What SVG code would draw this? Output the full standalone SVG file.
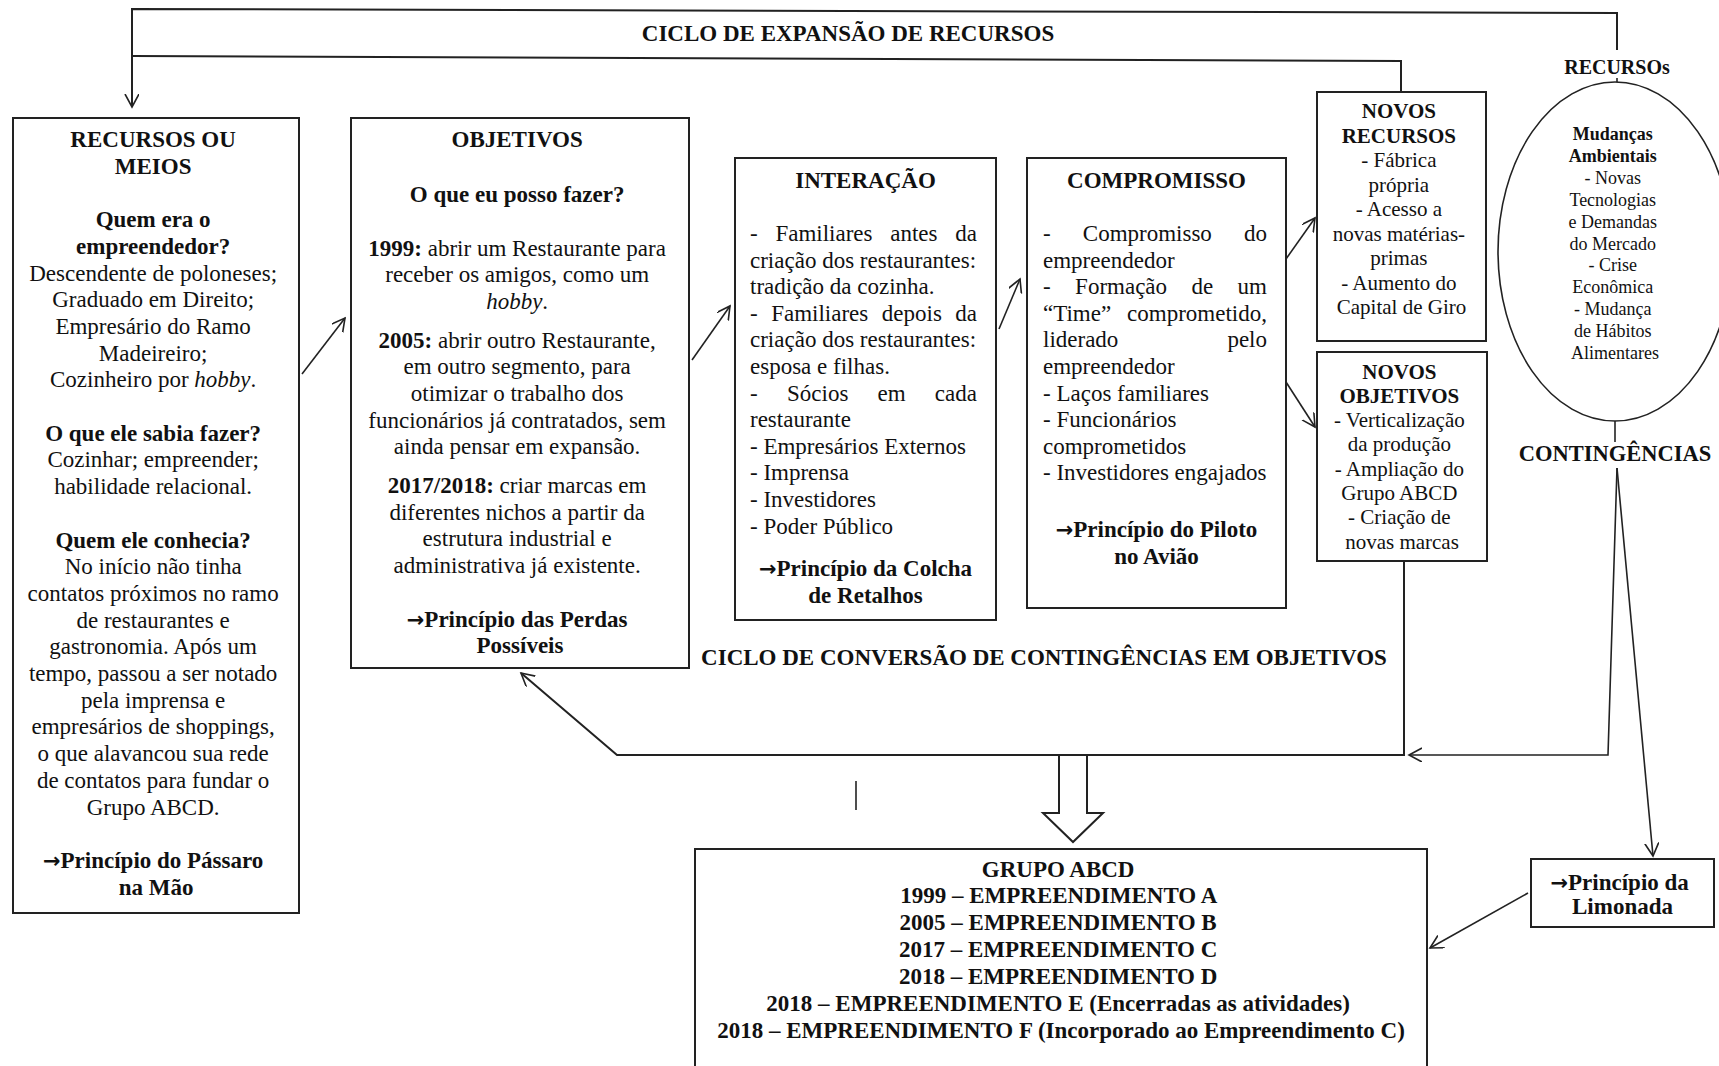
<svg xmlns="http://www.w3.org/2000/svg" width="1719" height="1066" viewBox="0 0 1719 1066">
<style>
.t{font-family:"Liberation Serif","Times New Roman",serif;font-size:23px;fill:#111}
.b{font-weight:bold}
.c{text-anchor:middle}
.e{text-anchor:end}
.i{font-style:italic}
.ar{font-family:"DejaVu Sans",sans-serif;font-weight:bold;font-size:21px}
.s21{font-size:21px}
.s18{font-size:18px}
.s20{font-size:20px}
.box{fill:#fff;stroke:#222;stroke-width:2}
.ln{fill:none;stroke:#222;stroke-width:1.6}
.lt{fill:none;stroke:#222;stroke-width:2}
</style>
<defs>
<marker id="ah" markerUnits="userSpaceOnUse" markerWidth="16" markerHeight="16" refX="13" refY="7" orient="auto">
<path d="M0,0 L13,7 L0,14" fill="none" stroke="#222" stroke-width="1.6"/>
</marker>
</defs>

<g id="connectors">
<polyline class="lt" points="1617,50 1617,13 132,9 132,107" marker-end="url(#ah)"/>
<polyline class="lt" points="132,56 1401,61 1401,91"/>
<line class="ln" x1="1617" y1="78" x2="1617" y2="83"/>
<line class="ln" x1="1615" y1="421" x2="1615" y2="442"/>
<line class="ln" x1="302" y1="374" x2="345" y2="318" marker-end="url(#ah)"/>
<line class="ln" x1="692" y1="360" x2="730" y2="306" marker-end="url(#ah)"/>
<line class="ln" x1="999" y1="329" x2="1020" y2="279" marker-end="url(#ah)"/>
<line class="ln" x1="1286" y1="259" x2="1315" y2="218" marker-end="url(#ah)"/>
<line class="ln" x1="1286" y1="382" x2="1315" y2="427" marker-end="url(#ah)"/>
<polyline class="lt" points="1404,561 1404,755 617,755 521,673" marker-end="url(#ah)"/>
<polyline class="ln" points="1617,468 1608,755 1409,755" marker-end="url(#ah)"/>
<line class="ln" x1="1617" y1="468" x2="1653" y2="856" marker-end="url(#ah)"/>
<line class="ln" x1="1528" y1="893" x2="1430" y2="948" marker-end="url(#ah)"/>
<path d="M1059,755 L1087,755 L1087,813 L1103,813 L1073,842 L1043,813 L1059,813 Z" fill="#fff" stroke="#222" stroke-width="2"/>
<line class="ln" x1="856" y1="781" x2="856" y2="810"/>
</g>

<g id="labels">
<text class="t b c" x="848" y="41">CICLO DE EXPANSÃO DE RECURSOS</text>
<text class="t b c s20" x="1617" y="74">RECURSOs</text>
<text class="t b c" x="1615" y="461" style="font-size:22.5px">CONTINGÊNCIAS</text>
<text class="t b c" x="1044" y="665">CICLO DE CONVERSÃO DE CONTINGÊNCIAS EM OBJETIVOS</text>
</g>

<g id="node-recursos">
<rect class="box" x="13" y="118" width="286" height="795"/>
<text class="t c" x="156">
<tspan class="b" x="156" y="147">RECURSOS OU</tspan>
<tspan class="b" x="156" y="173.7">MEIOS</tspan>
<tspan class="b" x="156" y="227.1">Quem era o</tspan>
<tspan class="b" x="156" y="253.8">empreendedor?</tspan>
<tspan x="156" y="280.5">Descendente de poloneses;</tspan>
<tspan x="156" y="307.2">Graduado em Direito;</tspan>
<tspan x="156" y="333.9">Empresário do Ramo</tspan>
<tspan x="156" y="360.6">Madeireiro;</tspan>
<tspan x="156" y="387.3">Cozinheiro por <tspan class="i">hobby</tspan>.</tspan>
<tspan class="b" x="156" y="440.7">O que ele sabia fazer?</tspan>
<tspan x="156" y="467.4">Cozinhar; empreender;</tspan>
<tspan x="156" y="494.1">habilidade relacional.</tspan>
<tspan class="b" x="156" y="547.5">Quem ele conhecia?</tspan>
<tspan x="156" y="574.2">No início não tinha</tspan>
<tspan x="156" y="600.9">contatos próximos no ramo</tspan>
<tspan x="156" y="627.6">de restaurantes e</tspan>
<tspan x="156" y="654.3">gastronomia. Após um</tspan>
<tspan x="156" y="681">tempo, passou a ser notado</tspan>
<tspan x="156" y="707.7">pela imprensa e</tspan>
<tspan x="156" y="734.4">empresários de shoppings,</tspan>
<tspan x="156" y="761.1">o que alavancou sua rede</tspan>
<tspan x="156" y="787.8">de contatos para fundar o</tspan>
<tspan x="156" y="814.5">Grupo ABCD.</tspan>
<tspan class="b" x="156" y="867.9"><tspan class="ar">→</tspan>Princípio do Pássaro</tspan>
<tspan class="b" x="156" y="894.6">na Mão</tspan>
</text>
</g>

<g id="node-objetivos">
<rect class="box" x="351" y="118" width="338" height="550"/>
<text class="t c">
<tspan class="b" x="520" y="147">OBJETIVOS</tspan>
<tspan class="b" x="520" y="202">O que eu posso fazer?</tspan>
<tspan x="520" y="255.5"><tspan class="b">1999:</tspan> abrir um Restaurante para</tspan>
<tspan x="520" y="282.2">receber os amigos, como um</tspan>
<tspan x="520" y="308.9"><tspan class="i">hobby</tspan>.</tspan>
<tspan x="520" y="347.5"><tspan class="b">2005:</tspan> abrir outro Restaurante,</tspan>
<tspan x="520" y="374.2">em outro segmento, para</tspan>
<tspan x="520" y="400.9">otimizar o trabalho dos</tspan>
<tspan x="520" y="427.6">funcionários já contratados, sem</tspan>
<tspan x="520" y="454.3">ainda pensar em expansão.</tspan>
<tspan x="520" y="493"><tspan class="b">2017/2018:</tspan> criar marcas em</tspan>
<tspan x="520" y="519.7">diferentes nichos a partir da</tspan>
<tspan x="520" y="546.4">estrutura industrial e</tspan>
<tspan x="520" y="573.1">administrativa já existente.</tspan>
<tspan class="b" x="520" y="626.5"><tspan class="ar">→</tspan>Princípio das Perdas</tspan>
<tspan class="b" x="520" y="653.2">Possíveis</tspan>
</text>
</g>

<g id="node-interacao">
<rect class="box" x="735" y="158" width="261" height="462"/>
<text class="t b c" x="865.5" y="187.5">INTERAÇÃO</text>
<text class="t" x="750" y="241">-</text>
<text class="t" x="775.4" y="241">Familiares</text>
<text class="t" x="890.2" y="241">antes</text>
<text class="t e" x="977" y="241">da</text>
<text class="t" x="750" y="267.6">criação dos restaurantes:</text>
<text class="t" x="750" y="294.2">tradição da cozinha.</text>
<text class="t" x="750" y="320.8">-</text>
<text class="t" x="771.2" y="320.8">Familiares</text>
<text class="t" x="881.8" y="320.8">depois</text>
<text class="t e" x="977" y="320.8">da</text>
<text class="t" x="750" y="347.4">criação dos restaurantes:</text>
<text class="t" x="750" y="374">esposa e filhas.</text>
<text class="t" x="750" y="400.6">-</text>
<text class="t" x="787" y="400.6">Sócios</text>
<text class="t" x="877.6" y="400.6">em</text>
<text class="t e" x="977" y="400.6">cada</text>
<text class="t" x="750" y="427.2">restaurante</text>
<text class="t" x="750" y="453.8">- Empresários Externos</text>
<text class="t" x="750" y="480.4">- Imprensa</text>
<text class="t" x="750" y="507">- Investidores</text>
<text class="t" x="750" y="533.6">- Poder Público</text>
<text class="t b c" x="865.5" y="576"><tspan class="ar">→</tspan>Princípio da Colcha</text>
<text class="t b c" x="865.5" y="602.5">de Retalhos</text>
</g>

<g id="node-compromisso">
<rect class="box" x="1027" y="158" width="259" height="450"/>
<text class="t b c" x="1156.5" y="187.5">COMPROMISSO</text>
<text class="t" x="1043" y="241">-</text>
<text class="t" x="1082.8" y="241">Compromisso</text>
<text class="t e" x="1267" y="241">do</text>
<text class="t" x="1043" y="267.6">empreendedor</text>
<text class="t" x="1043" y="294.2">-</text>
<text class="t" x="1075.1" y="294.2">Formação</text>
<text class="t" x="1191.5" y="294.2">de</text>
<text class="t e" x="1267" y="294.2">um</text>
<text class="t" x="1043" y="320.8">“Time”</text>
<text class="t e" x="1267" y="320.8">comprometido,</text>
<text class="t" x="1043" y="347.4">liderado</text>
<text class="t e" x="1267" y="347.4">pelo</text>
<text class="t" x="1043" y="374">empreendedor</text>
<text class="t" x="1043" y="400.6">- Laços familiares</text>
<text class="t" x="1043" y="427.2">- Funcionários</text>
<text class="t" x="1043" y="453.8">comprometidos</text>
<text class="t" x="1043" y="480.4">- Investidores engajados</text>
<text class="t b c" x="1156.5" y="537"><tspan class="ar">→</tspan>Princípio do Piloto</text>
<text class="t b c" x="1156.5" y="563.5">no Avião</text>
</g>

<g id="node-novos-recursos">
<rect class="box" x="1317" y="92" width="169" height="249"/>
<text class="t s21 c">
<tspan class="b" x="1401.5" y="118">NOVOS</tspan>
<tspan class="b" x="1401.5" y="142.5">RECURSOS</tspan>
<tspan x="1401.5" y="167">- Fábrica</tspan>
<tspan x="1401.5" y="191.5">própria</tspan>
<tspan x="1401.5" y="216">- Acesso a</tspan>
<tspan x="1401.5" y="240.5">novas matérias-</tspan>
<tspan x="1401.5" y="265">primas</tspan>
<tspan x="1401.5" y="289.5">- Aumento do</tspan>
<tspan x="1401.5" y="314">Capital de Giro</tspan>
</text>
</g>

<g id="node-novos-objetivos">
<rect class="box" x="1317" y="352" width="170" height="209"/>
<text class="t s21 c">
<tspan class="b" x="1402" y="378.5">NOVOS</tspan>
<tspan class="b" x="1402" y="402.8">OBJETIVOS</tspan>
<tspan x="1402" y="427.1">- Verticalização</tspan>
<tspan x="1402" y="451.4">da produção</tspan>
<tspan x="1402" y="475.7">- Ampliação do</tspan>
<tspan x="1402" y="500">Grupo ABCD</tspan>
<tspan x="1402" y="524.3">- Criação de</tspan>
<tspan x="1402" y="548.6">novas marcas</tspan>
</text>
</g>

<g id="node-mudancas">
<ellipse cx="1615" cy="251.5" rx="117" ry="169.5" fill="#fff" stroke="#222" stroke-width="1.6"/>
<text class="t s18 c">
<tspan class="b" x="1615" y="140">Mudanças</tspan>
<tspan class="b" x="1615" y="161.9">Ambientais</tspan>
<tspan x="1615" y="183.8">- Novas</tspan>
<tspan x="1615" y="205.7">Tecnologias</tspan>
<tspan x="1615" y="227.6">e Demandas</tspan>
<tspan x="1615" y="249.5">do Mercado</tspan>
<tspan x="1615" y="271.4">- Crise</tspan>
<tspan x="1615" y="293.3">Econômica</tspan>
<tspan x="1615" y="315.2">- Mudança</tspan>
<tspan x="1615" y="337.1">de Hábitos</tspan>
<tspan x="1615" y="359">Alimentares</tspan>
</text>
</g>

<g id="node-grupo">
<rect class="box" x="695" y="849" width="732" height="240"/>
<text class="t b c">
<tspan x="1061" y="876.5">GRUPO ABCD</tspan>
<tspan x="1061" y="903.4">1999 – EMPREENDIMENTO A</tspan>
<tspan x="1061" y="930.3">2005 – EMPREENDIMENTO B</tspan>
<tspan x="1061" y="957.2">2017 – EMPREENDIMENTO C</tspan>
<tspan x="1061" y="984.1">2018 – EMPREENDIMENTO D</tspan>
<tspan x="1061" y="1011">2018 – EMPREENDIMENTO E (Encerradas as atividades)</tspan>
<tspan x="1061" y="1037.9">2018 – EMPREENDIMENTO F (Incorporado ao Empreendimento C)</tspan>
</text>
</g>

<g id="node-limonada">
<rect class="box" x="1531" y="859" width="183" height="68"/>
<text class="t b c">
<tspan x="1622.5" y="889.5"><tspan class="ar">→</tspan>Princípio da</tspan>
<tspan x="1622.5" y="914">Limonada</tspan>
</text>
</g>
</svg>
